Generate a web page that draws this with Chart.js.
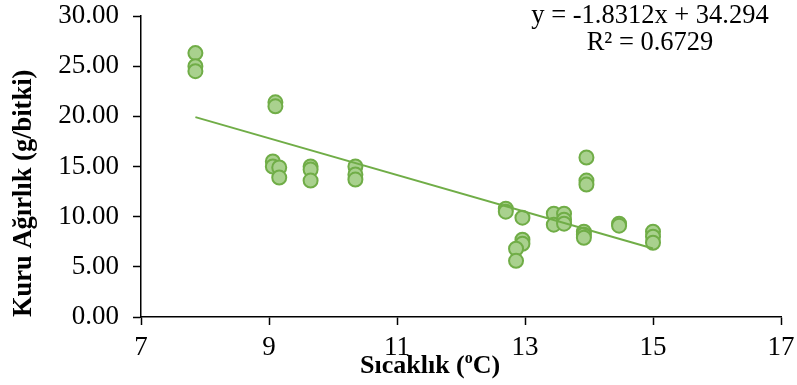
<!DOCTYPE html>
<html>
<head>
<meta charset="utf-8">
<script src="https://cdn.jsdelivr.net/npm/chart.js@4.4.1/dist/chart.umd.min.js"></script>
<style>
  html, body { margin: 0; padding: 0; background: #fff; }
  #wrap { width: 797px; height: 385px; }
</style>
</head>
<body>
<div id="wrap"><canvas id="myChart" width="797" height="385"></canvas></div>
<script>
'use strict';

// data
let temperature = [7.85, 7.85, 7.85, 9.1, 9.1, 9.06, 9.06, 9.16, 9.16, 9.65, 9.65, 9.65,
  10.35, 10.35, 10.35, 12.7, 12.7, 12.96, 12.96, 12.96, 12.86, 12.86, 13.45, 13.45,
  13.61, 13.61, 13.61, 13.96, 13.96, 13.96, 13.92, 13.92, 13.92, 14.47, 14.47, 15.0, 15.0, 15.0];
let dryWeight = [26.3, 25.0, 24.5, 21.4, 21.0, 15.5, 15.0, 14.9, 13.9, 15.0, 14.7, 13.6,
  15.0, 14.2, 13.7, 10.8, 10.5, 9.9, 7.7, 7.3, 6.8, 5.6, 10.3, 9.2,
  10.3, 9.7, 9.3, 15.9, 13.6, 13.2, 8.5, 8.2, 7.9, 9.3, 9.1, 8.5, 8.0, 7.4];

// trend line ends (y = -1.8312x + 34.294)
let trendX = [7.85, 15.0];
let trendY = [19.92, 6.83];
let equationLines = ['y = -1.8312x + 34.294', 'R\u00b2 = 0.6729'];

let xTicks = [7, 9, 11, 13, 15, 17];
let yTicks = [0, 5, 10, 15, 20, 25, 30];

let green = '#70ad47';
let lightGreen = '#a9d18e';
let serif = "'Liberation Serif', 'Times New Roman', serif";

let points = [];
for (let i = 0; i < temperature.length; i++) {
  points.push({ x: temperature[i], y: dryWeight[i] });
}
let trendPoints = [];
for (let i = 0; i < trendX.length; i++) {
  trendPoints.push({ x: trendX[i], y: trendY[i] });
}

// equation and x title with superscript o
let textPlugin = {
  id: 'textPlugin',
  afterDraw(chart) {
    let c = chart.ctx;
    c.save();
    c.fillStyle = '#000';
    c.font = '26.5px ' + serif;
    c.textAlign = 'center';
    c.textBaseline = 'alphabetic';
    c.fillText(equationLines[0], 650, 23);
    c.fillText(equationLines[1], 650, 50);

    c.textAlign = 'left';
    let x = 360;
    let base = 373;
    c.font = 'bold 26px ' + serif;
    let part1 = 'S\u0131cakl\u0131k (';
    c.fillText(part1, x, base);
    x += c.measureText(part1).width;
    c.font = 'bold 16px ' + serif;
    c.fillText('o', x, base - 10);
    x += c.measureText('o').width;
    c.font = 'bold 26px ' + serif;
    c.fillText('C)', x, base);
    c.restore();
  }
};

let ctx = document.getElementById('myChart');

new Chart(ctx, {
  type: 'scatter',
  data: {
    datasets: [
      {
        label: 'trend',
        data: trendPoints,
        showLine: true,
        borderColor: green,
        borderWidth: 2,
        pointRadius: 0,
        order: 0
      },
      {
        label: 'Kuru Ağırlık',
        data: points,
        backgroundColor: lightGreen,
        borderColor: green,
        borderWidth: 2,
        pointRadius: 7,
        order: 1
      }
    ]
  },
  options: {
    responsive: false,
    animation: false,
    layout: { padding: { top: 16, right: 16, bottom: 0, left: 0 } },
    plugins: {
      legend: { display: false },
      tooltip: { enabled: false }
    },
    scales: {
      x: {
        type: 'linear',
        min: xTicks[0],
        max: xTicks[xTicks.length - 1],
        afterBuildTicks(scale) {
          scale.ticks = xTicks.map(v => ({ value: v }));
        },
        afterFit(scale) {
          scale.height = 68;
          scale.paddingLeft = 0;
          scale.paddingRight = 0;
        },
        grid: { drawOnChartArea: false, tickLength: 8, tickColor: '#000', tickWidth: 1.5 },
        border: { color: '#000', width: 1.5 },
        ticks: { color: '#000', padding: 7, maxRotation: 0, font: { family: serif, size: 27 } }
      },
      y: {
        min: yTicks[0],
        max: yTicks[yTicks.length - 1],
        afterBuildTicks(scale) {
          scale.ticks = yTicks.map(v => ({ value: v }));
        },
        afterFit(scale) {
          scale.width = 141;
          scale.paddingTop = 0;
          scale.paddingBottom = 0;
        },
        grid: { drawOnChartArea: false, tickLength: 8, tickColor: '#000', tickWidth: 1.5 },
        border: { color: '#000', width: 1.5 },
        ticks: {
          color: '#000',
          padding: 14,
          font: { family: serif, size: 27 },
          callback: v => Number(v).toFixed(2)
        },
        title: {
          display: true,
          text: 'Kuru Ağırlık (g/bitki)',
          align: 'start',
          color: '#000',
          padding: { top: 8, bottom: 0 },
          font: { family: serif, size: 26.5, weight: 'bold' }
        }
      }
    }
  },
  plugins: [textPlugin]
});
</script>
</body>
</html>
